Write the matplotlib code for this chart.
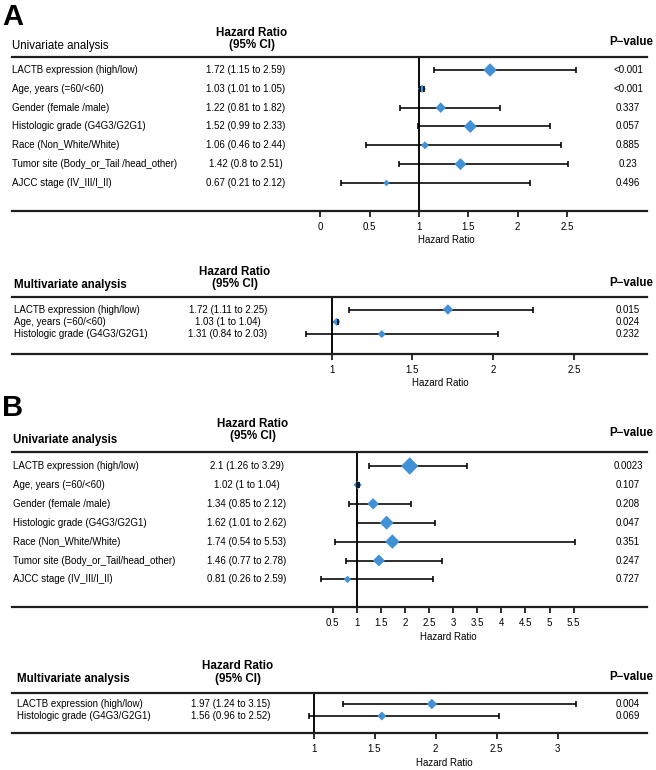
import numpy as np
import matplotlib.pyplot as plt
from matplotlib.transforms import blended_transform_factory

plt.rcParams['font.family'] = ['Liberation Sans', 'DejaVu Sans']

W, H = 656, 770

# ---------------- data ----------------
a_uni_labels = ['LACTB expression (high/low)', 'Age, years (=60/<60)', 'Gender (female /male)',
                'Histologic grade (G4G3/G2G1)', 'Race (Non_White/White)',
                'Tumor site (Body_or_Tail /head_other)', 'AJCC stage (IV_III/I_II)']
a_uni_hr = [1.72, 1.03, 1.22, 1.52, 1.06, 1.42, 0.67]
a_uni_lo = [1.15, 1.01, 0.81, 0.99, 0.46, 0.8, 0.21]
a_uni_hi = [2.59, 1.05, 1.82, 2.33, 2.44, 2.51, 2.12]
a_uni_p = ['<0.001', '<0.001', '0.337', '0.057', '0.885', '0.23', '0.496']
a_uni_ticks = [0, 0.5, 1, 1.5, 2, 2.5]

a_multi_labels = ['LACTB expression (high/low)', 'Age, years (=60/<60)', 'Histologic grade (G4G3/G2G1)']
a_multi_hr = [1.72, 1.03, 1.31]
a_multi_lo = [1.11, 1, 0.84]
a_multi_hi = [2.25, 1.04, 2.03]
a_multi_p = ['0.015', '0.024', '0.232']
a_multi_ticks = [1, 1.5, 2, 2.5]

b_uni_labels = ['LACTB expression (high/low)', 'Age, years (=60/<60)', 'Gender (female /male)',
                'Histologic grade (G4G3/G2G1)', 'Race (Non_White/White)',
                'Tumor site (Body_or_Tail/head_other)', 'AJCC stage (IV_III/I_II)']
b_uni_hr = [2.1, 1.02, 1.34, 1.62, 1.74, 1.46, 0.81]
b_uni_lo = [1.26, 1, 0.85, 1.01, 0.54, 0.77, 0.26]
b_uni_hi = [3.29, 1.04, 2.12, 2.62, 5.53, 2.78, 2.59]
b_uni_p = ['0.0023', '0.107', '0.208', '0.047', '0.351', '0.247', '0.727']
b_uni_ticks = [0.5, 1, 1.5, 2, 2.5, 3, 3.5, 4, 4.5, 5, 5.5]

b_multi_labels = ['LACTB expression (high/low)', 'Histologic grade (G4G3/G2G1)']
b_multi_hr = [1.97, 1.56]
b_multi_lo = [1.24, 0.96]
b_multi_hi = [3.15, 2.52]
b_multi_p = ['0.004', '0.069']
b_multi_ticks = [1, 1.5, 2, 2.5, 3]

# diamond widths in pixels (box size of each row)
a_uni_box = [13.5, 8, 10.5, 13, 8, 12, 6.5]
a_multi_box = [10.5, 8, 8]
b_uni_box = [17.5, 8.5, 11.5, 14, 14.5, 12, 7.5]
b_multi_box = [10.5, 9]

BLUE = '#4291d6'
LINE = '#1e1e1e'
X_LEFT, X_RIGHT = 12, 647

fig = plt.figure(figsize=(W / 100, H / 100), dpi=100)


def fx(px):
    return px / W


def fy(py):
    return 1 - py / H


def forest(labels, hr, lo, hi, pv, ticks, box, lay):
    n = len(labels)
    top, bottom = lay['top'], lay['bottom']
    row0, drow = lay['row0'], lay['drow']
    ax = fig.add_axes([fx(X_LEFT), fy(bottom), (X_RIGHT - X_LEFT) / W, (bottom - top) / H])
    xref, unit = lay['xref'], lay['unit']
    ax.set_xlim(1 + (X_LEFT - xref) / unit, 1 + (X_RIGHT - xref) / unit)
    y_last = row0 + (n - 1) * drow
    ax.set_ylim(n - 1 + (bottom - y_last) / drow, -(row0 - top) / drow)

    y = np.arange(n)
    ax.axvline(1, color='black', lw=1.35, zorder=1)
    ax.hlines(y, lo, hi, color='black', lw=1.15, zorder=2)
    ms = np.array(box) / np.sqrt(2) * 0.72
    ax.scatter(hr, y, marker='D', s=ms ** 2, color=BLUE, linewidths=0, zorder=3)
    ax.plot(lo, y, '|', color='black', ms=4.2, mew=1.15, zorder=4)
    ax.plot(hi, y, '|', color='black', ms=4.2, mew=1.15, zorder=4)

    for s in ['left', 'right']:
        ax.spines[s].set_visible(False)
    for s in ['top', 'bottom']:
        ax.spines[s].set_linewidth(1.6)
        ax.spines[s].set_color(LINE)
        ax.spines[s].set_zorder(5)
    ax.set_yticks([])
    ax.set_xticks(ticks, [f'{t:g}' for t in ticks])
    ax.tick_params(axis='x', direction='out', length=4.5, width=1.3, pad=3.5,
                   labelsize=7, color=LINE)
    ax.set_xlabel('Hazard Ratio', fontsize=7)
    ax.xaxis.set_label_coords((lay['xlab_x'] - X_LEFT) / (X_RIGHT - X_LEFT),
                              -(lay['xlab_y'] - bottom) / (bottom - top))
    ax.xaxis.label.set_va('center')

    tr = blended_transform_factory(fig.transFigure, ax.transData)
    for i in range(n):
        ax.text(fx(lay['lab_x']), i, labels[i], transform=tr, fontsize=7,
                ha='left', va='center')
        ax.text(fx(lay['hr_x']), i, f'{hr[i]:g} ({lo[i]:g} to {hi[i]:g})', transform=tr,
                fontsize=7, ha='center', va='center')
        ax.text(fx(628), i, pv[i], transform=tr, fontsize=7, ha='center', va='center')

    # header
    fig.text(fx(lay['hdr_x']), fy(lay['hdr_y']), 'Hazard Ratio\n(95% CI)', fontsize=8.4,
             weight='bold', ha='center', va='center', linespacing=1.05)
    fig.text(fx(lay['lab_x']), fy(lay['title_y']), lay['title'], fontsize=8.3,
             weight=lay['title_w'], ha='left', va='center')
    fig.text(fx(631), fy(lay['p_y']), 'P\u2212value', fontsize=8.3, weight='bold',
             ha='center', va='center')
    return ax


forest(a_uni_labels, a_uni_hr, a_uni_lo, a_uni_hi, a_uni_p, a_uni_ticks, a_uni_box,
       dict(top=57, bottom=211, row0=70, drow=18.83, xref=419, unit=98.7,
            lab_x=12, hr_x=246, hdr_x=252, hdr_y=39, title='Univariate analysis',
            title_w='normal', title_y=46, p_y=42, xlab_x=446, xlab_y=240))

forest(a_multi_labels, a_multi_hr, a_multi_lo, a_multi_hi, a_multi_p, a_multi_ticks, a_multi_box,
       dict(top=297, bottom=354, row0=309.5, drow=12.3, xref=331.7, unit=161.4,
            lab_x=14, hr_x=228, hdr_x=235, hdr_y=278, title='Multivariate analysis',
            title_w='bold', title_y=285, p_y=283, xlab_x=440, xlab_y=383))

forest(b_uni_labels, b_uni_hr, b_uni_lo, b_uni_hi, b_uni_p, b_uni_ticks, b_uni_box,
       dict(top=452, bottom=607, row0=466, drow=18.9, xref=356.7, unit=48.2,
            lab_x=13, hr_x=247, hdr_x=253, hdr_y=430, title='Univariate analysis',
            title_w='bold', title_y=440, p_y=433, xlab_x=448, xlab_y=637))

forest(b_multi_labels, b_multi_hr, b_multi_lo, b_multi_hi, b_multi_p, b_multi_ticks, b_multi_box,
       dict(top=693, bottom=733, row0=704, drow=12, xref=313.5, unit=122,
            lab_x=17, hr_x=231, hdr_x=238, hdr_y=672.5, title='Multivariate analysis',
            title_w='bold', title_y=679, p_y=677, xlab_x=444, xlab_y=763))

fig.text(fx(2), fy(17), 'A', fontsize=21, weight='bold', ha='left', va='center')
fig.text(fx(2), fy(408), 'B', fontsize=21, weight='bold', ha='left', va='center')

fig.savefig('out.png', dpi=100)
